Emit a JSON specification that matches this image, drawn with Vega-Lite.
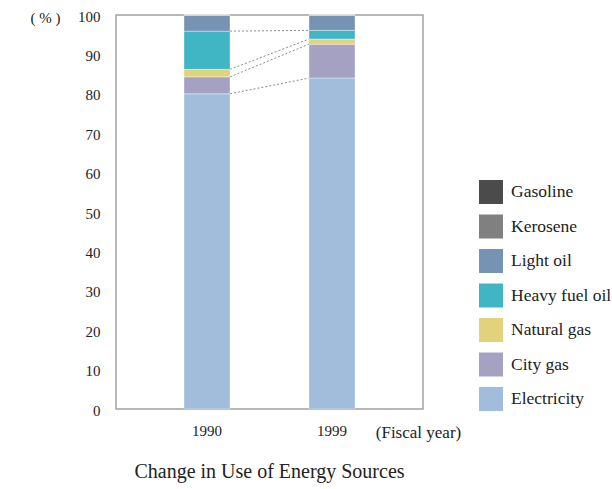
{
  "$schema": "https://vega.github.io/schema/vega-lite/v6.json",
  "width": 307,
  "height": 394,
  "autosize": {"type": "none"},
  "padding": {"left": 116, "top": 15, "right": 189, "bottom": 80},
  "background": "white",
  "config": {
    "font": "Liberation Serif",
    "view": {"stroke": "#a0a0a0", "strokeWidth": 1.5},
    "axisX": {
      "labelFontSize": 15, "labelPadding": 14, "ticks": false, "domain": false, "grid": false,
      "labelAngle": 0, "labelColor": "#222", "labelFont": "Liberation Serif",
      "titleX": 302, "titleY": 23, "titleFontSize": 17, "titleFontWeight": "normal",
      "titleAlign": "center", "titleBaseline": "middle", "titleColor": "#222", "titleFont": "Liberation Serif"
    },
    "axisY": {
      "labelFontSize": 15, "labelPadding": 16, "ticks": false, "domain": false, "grid": false,
      "labelColor": "#222", "labelFont": "Liberation Serif", "labelOffset": 1,
      "values": [0, 10, 20, 30, 40, 50, 60, 70, 80, 90, 100],
      "titleAngle": 0, "titleX": -71, "titleY": 2, "titleAlign": "center", "titleBaseline": "middle",
      "titleFontSize": 15, "titleFontWeight": "normal", "titleColor": "#222", "titleFont": "Liberation Serif"
    },
    "legend": {
      "orient": "none", "legendX": 363, "legendY": 165,
      "symbolType": "square", "symbolSize": 576, "symbolStrokeWidth": 0,
      "labelFontSize": 17.5, "labelFont": "Liberation Serif", "labelColor": "#222",
      "rowPadding": 10.5, "labelOffset": 8, "labelLimit": 300
    }
  },
  "title": {
    "text": "Change in Use of Energy Sources", "orient": "bottom", "fontSize": 20,
    "fontWeight": "normal", "color": "#222", "offset": 22, "anchor": "middle", "font": "Liberation Serif"
  },
  "datasets": {
    "shares": [
      {"year": "1990", "source": "Electricity", "idx": 1, "value": 80.0},
      {"year": "1990", "source": "City gas", "idx": 2, "value": 4.3},
      {"year": "1990", "source": "Natural gas", "idx": 3, "value": 1.9},
      {"year": "1990", "source": "Heavy fuel oil", "idx": 4, "value": 9.7},
      {"year": "1990", "source": "Light oil", "idx": 5, "value": 4.1},
      {"year": "1990", "source": "Kerosene", "idx": 6, "value": 0},
      {"year": "1990", "source": "Gasoline", "idx": 7, "value": 0},
      {"year": "1999", "source": "Electricity", "idx": 1, "value": 84.0},
      {"year": "1999", "source": "City gas", "idx": 2, "value": 8.6},
      {"year": "1999", "source": "Natural gas", "idx": 3, "value": 1.3},
      {"year": "1999", "source": "Heavy fuel oil", "idx": 4, "value": 2.2},
      {"year": "1999", "source": "Light oil", "idx": 5, "value": 3.9},
      {"year": "1999", "source": "Kerosene", "idx": 6, "value": 0},
      {"year": "1999", "source": "Gasoline", "idx": 7, "value": 0}
    ],
    "links": [
      {"from": "1990", "to": "1999", "left": 80.0, "right": 84.0},
      {"from": "1990", "to": "1999", "left": 84.3, "right": 92.6},
      {"from": "1990", "to": "1999", "left": 86.2, "right": 93.9},
      {"from": "1990", "to": "1999", "left": 95.9, "right": 96.1}
    ]
  },
  "layer": [
    {
      "data": {"name": "links"},
      "mark": {"type": "rule", "strokeDash": [2, 2], "color": "#8c8c8c", "strokeWidth": 1, "xOffset": 23, "x2Offset": -23},
      "encoding": {
        "x": {"field": "from", "type": "nominal", "title": "(Fiscal year)",
              "scale": {"domain": ["1990", "1999"], "paddingInner": 0.632, "paddingOuter": 0.544}},
        "x2": {"field": "to"},
        "y": {"field": "left", "type": "quantitative", "title": "( % )", "scale": {"domain": [0, 100], "nice": false}},
        "y2": {"field": "right"}
      }
    },
    {
      "data": {"name": "shares"},
      "mark": {"type": "bar", "stroke": "white", "strokeOpacity": 0.35, "strokeWidth": 1},
      "encoding": {
        "x": {"field": "year", "type": "nominal", "title": "(Fiscal year)",
              "scale": {"domain": ["1990", "1999"], "paddingInner": 0.632, "paddingOuter": 0.544}},
        "y": {"field": "value", "type": "quantitative", "stack": "zero", "title": "( % )",
              "scale": {"domain": [0, 100], "nice": false}},
        "color": {
          "field": "source", "type": "nominal",
          "scale": {
            "domain": ["Gasoline", "Kerosene", "Light oil", "Heavy fuel oil", "Natural gas", "City gas", "Electricity"],
            "range": ["#4b4b4b", "#808080", "#7793b4", "#40b5c4", "#e3d27c", "#a4a1c3", "#a2bddc"]
          },
          "legend": {"title": null}
        },
        "order": {"field": "idx", "type": "quantitative"}
      }
    }
  ]
}
